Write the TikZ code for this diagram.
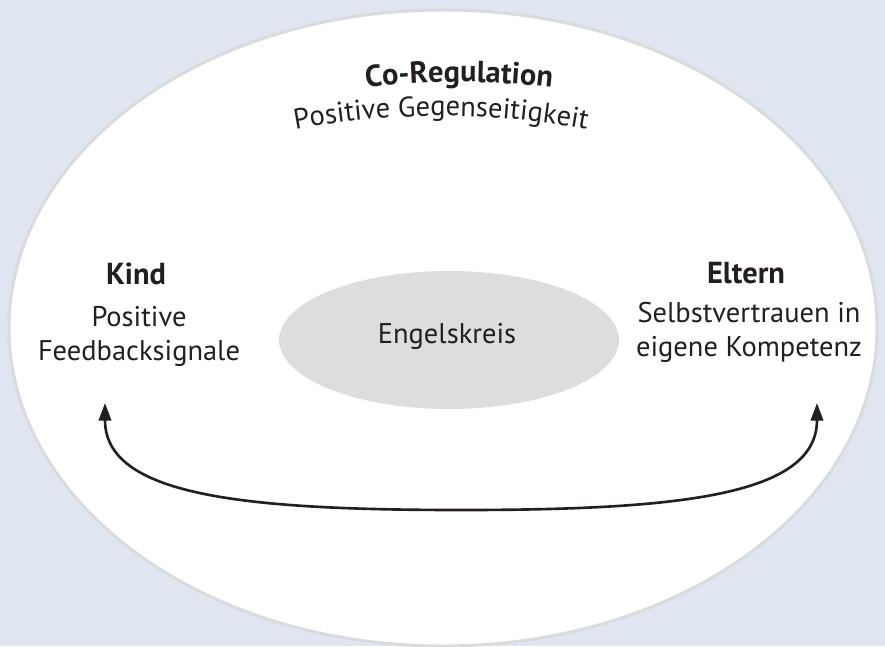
\documentclass[tikz,border=0pt]{standalone}
\usepackage{fontspec}
\setmainfont{PT Sans}
\usepackage{xcolor}
\usetikzlibrary{arrows.meta,decorations.text}
\definecolor{bgblue}{HTML}{E0E5F2}
\definecolor{rimgray}{HTML}{DADBDC}
\definecolor{coregray}{HTML}{DCDDDF}
\definecolor{inkblack}{HTML}{231F20}

\begin{document}
\begin{tikzpicture}[scale=0.2]
        \tikzstyle{every node}+=[inner sep=0pt, text=inkblack, font=\fontsize{16.2}{19.3}\selectfont]
        \tikzstyle{title}=[font=\fontsize{17.3}{19.3}\selectfont\bfseries]
        \tikzstyle{bothways}=[inkblack, line width=1.5pt, arrows={Triangle[length=10pt,width=7pt]-Triangle[length=10pt,width=7pt]}]
        \useasboundingbox (0,0) rectangle (88.5,-64.6);
        \fill [bgblue] (0,0) rectangle (88.5,-64.6);
        \draw [rimgray, line width=1.7pt, fill=white] (44.3,-32.8) ellipse [x radius=43.4, y radius=31.8];
        \fill [coregray] (44.9,-34.0) ellipse [x radius=17, y radius=6.9];
        \draw (44.7,-34.3) node [anchor=base] (engel) {Engelskreis};
        % headings bent along an arc
        \path [decorate, decoration={text along path, text align=center, text color=inkblack,
            text={|\fontsize{17.3}{19}\selectfont\bfseries|Co-Regulation}}]
            (18.54,-13.02) arc [start angle=110, end angle=70, radius=80];
        \path [decorate, decoration={text along path, text align=center, text color=inkblack,
            text={|\fontsize{16.2}{19}\selectfont|Positive Gegenseitigkeit}}]
            (16.74,-16.42) arc [start angle=110, end angle=70, radius=80];
        \draw (13.6,-28.4) node [anchor=base, title] (kind) {Kind};
        \draw (13.9,-30.6) node [anchor=north, align=center] (kindtext) {Positive\\Feedbacksignale};
        \draw (74.6,-28.3) node [anchor=base, title] (eltern) {Eltern};
        \draw (74.9,-30.2) node [anchor=north, align=center] (elterntext) {Selbstvertrauen in\\eigene Kompetenz};
        \coordinate (kindend) at (10.5,-40.3);
        \coordinate (elternend) at (81.7,-40.3);
        \draw [bothways] (kindend) .. controls (10.5,-49.5) and (24.0,-51.0) .. (46.1,-51.0)
            .. controls (68.2,-51.0) and (81.7,-49.5) .. (elternend);
    \end{tikzpicture}
\end{document}
